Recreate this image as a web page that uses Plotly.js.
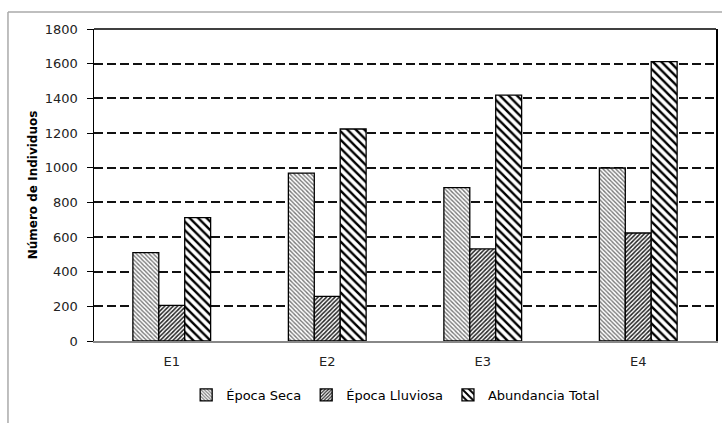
<!DOCTYPE html>
<html>
<head>
<meta charset="utf-8">
<script src="https://cdn.plot.ly/plotly-3.0.1.min.js"></script>
<style>html,body{margin:0;padding:0;background:#fff;}#chart{width:722px;height:423px;}</style>
</head>
<body>
<div id="chart"></div>
<script>
const categories = ["E1", "E2", "E3", "E4"];
const epocaSeca = [510, 969, 885, 998];
const epocaLluviosa = [206, 258, 531, 623];
const abundanciaTotal = [712, 1223, 1418, 1612];
const seriesNames = ["Época Seca", "Época Lluviosa", "Abundancia Total"];
const yTicks = [0, 200, 400, 600, 800, 1000, 1200, 1400, 1600, 1800];

const font = "'DejaVu Sans', sans-serif";
const outline = {color: "#000", width: 1.3};

const traces = [
  {type: "bar", name: seriesNames[0], x: categories, y: epocaSeca,
   marker: {color: "#fff", line: outline,
     pattern: {shape: "\\", fgcolor: "#777", bgcolor: "#fff", size: 3, solidity: 0.45}}},
  {type: "bar", name: seriesNames[1], x: categories, y: epocaLluviosa,
   marker: {color: "#fff", line: outline,
     pattern: {shape: "/", fgcolor: "#222", bgcolor: "#fff", size: 3, solidity: 0.5}}},
  {type: "bar", name: seriesNames[2], x: categories, y: abundanciaTotal,
   marker: {color: "#fff", line: outline,
     pattern: {shape: "\\", fgcolor: "#000", bgcolor: "#fff", size: 6, solidity: 0.4}}}
];

const layout = {
  width: 722, height: 423,
  margin: {l: 94, r: 6, t: 29, b: 82},
  paper_bgcolor: "#fff", plot_bgcolor: "#fff",
  barmode: "group", bargap: 0.5, bargroupgap: 0,
  font: {family: font, size: 13, color: "#000"},
  showlegend: true,
  legend: {orientation: "h", x: 0.485, xanchor: "center", y: -0.125, yanchor: "top",
    font: {family: font, size: 13, color: "#000"}, itemwidth: 30, traceorder: "normal"},
  xaxis: {showline: true, linecolor: "#888", linewidth: 1.5, ticks: "", showgrid: false,
    tickfont: {family: font, size: 13, color: "#222"}, zeroline: false, ticklabelstandoff: 8},
  yaxis: {range: [0, 1800], tickvals: yTicks, ticktext: yTicks.map(String),
    showline: true, linecolor: "#000", linewidth: 1.5, mirror: true,
    ticks: "outside", ticklen: 6, tickcolor: "#000", ticklabelstandoff: 6,
    showgrid: true, gridcolor: "#111", gridwidth: 2, griddash: "9px,4px", zeroline: false,
    tickfont: {family: font, size: 13, color: "#222"},
    title: {text: "<b>Número de Individuos</b>", font: {family: font, size: 12}, standoff: 4}},
  shapes: [
    {type: "line", xref: "paper", yref: "paper", x0: 0, x1: 1, y0: 1, y1: 1, line: {color: "#000", width: 1.5}},
    {type: "line", xref: "paper", yref: "paper", x0: -0.1383, x1: 1.02, y0: 1.0545, y1: 1.0545, line: {color: "#aaa", width: 1.5}},
    {type: "line", xref: "paper", yref: "paper", x0: -0.1383, x1: -0.1383, y0: 1.0545, y1: -0.3, line: {color: "#aaa", width: 1.5}}
  ]
};

Plotly.newPlot("chart", traces, layout, {displayModeBar: false, staticPlot: true});
</script>
</body>
</html>
